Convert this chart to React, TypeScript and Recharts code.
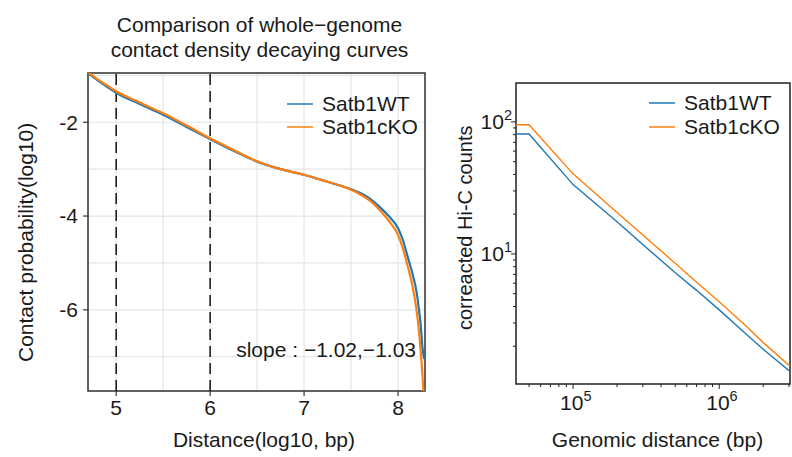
import { LineChart, Line, XAxis, YAxis, CartesianGrid, ReferenceLine, ReferenceArea, Legend } from "recharts"

const FONT = "'Liberation Sans', Arial, Helvetica, sans-serif"
const BLUE = "#1f77b4"
const ORANGE = "#ff7f0e"
const TEXT = "#1a1a1a"

// left panel: whole-genome decay, log10 distance vs log10 contact probability
const logDistance = [
  4.7, 4.8, 4.9, 5.0, 5.25, 5.5, 5.75, 6.0, 6.25, 6.5, 6.75, 7.0, 7.2, 7.4, 7.5, 7.6, 7.7, 7.8,
  7.9, 8.0, 8.05, 8.1, 8.15, 8.2, 8.22, 8.24, 8.26, 8.27, 8.28,
]
const wtLogProb = [
  -0.95, -1.1, -1.24, -1.37, -1.61, -1.84, -2.1, -2.36, -2.61, -2.84, -3.0, -3.12, -3.24, -3.36,
  -3.43, -3.51, -3.63, -3.8, -4.0, -4.26, -4.5, -4.85, -5.2, -5.65, -5.95, -6.3, -6.8, -6.95, -7.05,
]
const koLogProb = [
  -0.93, -1.08, -1.21, -1.34, -1.58, -1.81, -2.07, -2.34, -2.59, -2.83, -3.0, -3.12, -3.24, -3.36,
  -3.44, -3.54, -3.67, -3.86, -4.1, -4.4, -4.68, -5.05, -5.45, -6.05, -6.4, -6.85, -7.4, -7.73, null,
]
const slopeWindow = [5, 6]
const leftXTicks = [5, 5.5, 6, 6.5, 7, 7.5, 8]
const leftYTicks = [-7, -6, -5, -4, -3, -2, -1]

// right panel: corrected Hi-C counts vs genomic distance (log-log)
const genomicDistance = [40000, 50000, 100000, 200000, 300000, 500000, 700000, 1000000, 1500000, 2000000, 3050000]
const wtCounts = [81, 81, 33.5, 17.5, 11.8, 7.2, 5.3, 3.77, 2.52, 1.9, 1.29]
const koCounts = [95, 95, 40.4, 20.6, 13.9, 8.5, 6.1, 4.34, 2.9, 2.13, 1.41]
const rightXTicks = [
  50000, 60000, 70000, 80000, 90000, 100000, 200000, 300000, 400000, 500000, 600000, 700000, 800000,
  900000, 1000000, 2000000, 3000000,
]
const rightYTicks = [2, 3, 4, 5, 6, 7, 8, 9, 10, 20, 30, 40, 50, 60, 70, 80, 90, 100]

const leftData = logDistance.map((d, i) => ({ d, wt: wtLogProb[i], ko: koLogProb[i] }))
const rightData = genomicDistance.map((g, i) => ({ g, wt: wtCounts[i], ko: koCounts[i] }))

const LeftXTick = ({ x, y, payload }: any) => {
  if (!Number.isInteger(payload.value)) return null
  return (
    <g>
      <line x1={x} x2={x} y1={y} y2={y + 5} stroke="#333" strokeWidth={1.2} />
      <text x={x} y={y + 17} dy="0.35em" textAnchor="middle" fontSize={21} fill={TEXT} fontFamily={FONT}>
        {payload.value}
      </text>
    </g>
  )
}

const LeftYTick = ({ x, y, payload }: any) => {
  if (payload.value % 2 !== 0) return null
  return (
    <g>
      <line x1={x - 5} x2={x} y1={y} y2={y} stroke="#333" strokeWidth={1.2} />
      <text x={x - 10} y={y} dy="0.35em" textAnchor="end" fontSize={21} fill={TEXT} fontFamily={FONT}>
        {"-" + Math.abs(payload.value)}
      </text>
    </g>
  )
}

const isPow10 = (v: number) => Math.abs(Math.log10(v) - Math.round(Math.log10(v))) < 1e-9

const RightXTick = ({ x, y, payload }: any) => {
  const major = isPow10(payload.value)
  return (
    <g>
      <line x1={x} x2={x} y1={y} y2={y + (major ? 5 : 3)} stroke="#222" strokeWidth={1} />
      {major && (
        <text x={x - 13} y={y + 19} dy="0.35em" fontSize={21} fill={TEXT} fontFamily={FONT}>
          10
          <tspan dy={-9} fontSize={14.5}>
            {Math.round(Math.log10(payload.value))}
          </tspan>
        </text>
      )}
    </g>
  )
}

const RightYTick = ({ x, y, payload }: any) => {
  const major = isPow10(payload.value)
  return (
    <g>
      <line x1={x - (major ? 5 : 3)} x2={x} y1={y} y2={y} stroke="#222" strokeWidth={1} />
      {major && (
        <text x={x - 4} y={y} dy="0.35em" textAnchor="end" fontSize={21} fill={TEXT} fontFamily={FONT}>
          10
          <tspan dy={-9} fontSize={14.5}>
            {Math.round(Math.log10(payload.value))}
          </tspan>
        </text>
      )}
    </g>
  )
}

const renderLegend = (rowHeight: number) => (props: any) => (
  <div style={{ fontFamily: FONT, fontSize: 21, color: TEXT }}>
    {(props.payload || []).map((p: any) => (
      <div key={p.value} style={{ display: "flex", alignItems: "center", height: rowHeight }}>
        <svg width={26} height={4} style={{ marginRight: 9 }}>
          <line x1={0} x2={26} y1={2} y2={2} stroke={p.color} strokeWidth={1.5} />
        </svg>
        <span>{p.value}</span>
      </div>
    ))}
  </div>
)

export default function App() {
  return (
    <div style={{ position: "absolute", left: 0, top: 0, width: 792, height: 457, background: "#fff" }}>
      <div style={{ position: "absolute", left: 0, top: 0 }}>
        <LineChart width={440} height={457} data={leftData} margin={{ top: 73, right: 15, bottom: 26, left: 18 }}>
          <CartesianGrid stroke="#e5e5e5" strokeWidth={1.2} />
          <XAxis
            dataKey="d"
            type="number"
            domain={[4.7, 8.287]}
            allowDataOverflow
            ticks={leftXTicks}
            interval={0}
            tick={LeftXTick}
            tickLine={false}
            tickSize={0}
            tickMargin={0}
            axisLine={false}
            height={40}
          />
          <YAxis
            type="number"
            domain={[-7.73, -0.95]}
            allowDataOverflow
            ticks={leftYTicks}
            interval={0}
            tick={LeftYTick}
            tickLine={false}
            tickSize={0}
            tickMargin={0}
            axisLine={false}
            width={70}
          />
          {slopeWindow.map((v) => (
            <ReferenceLine key={v} x={v} stroke="#111" strokeWidth={1.5} strokeDasharray="11 6" />
          ))}
          <Line type="monotone" dataKey="wt" name="Satb1WT" stroke={BLUE} strokeWidth={2.2} dot={false} isAnimationActive={false} />
          <Line type="monotone" dataKey="ko" name="Satb1cKO" stroke={ORANGE} strokeWidth={2.2} dot={false} isAnimationActive={false} />
          <ReferenceArea x1={4.7} x2={8.287} y1={-7.73} y2={-0.95} fill="none" stroke="#333" strokeWidth={1.5} />
          <Legend
            layout="horizontal"
            verticalAlign="middle"
            content={renderLegend(23)}
            wrapperStyle={{ position: "absolute", left: 287, top: 92, width: 140 }}
          />
        </LineChart>
      </div>
      <div style={{ position: "absolute", left: 440, top: 0 }}>
        <LineChart width={352} height={457} data={rightData} margin={{ top: 83, right: 2, bottom: 33, left: 16 }}>
          <XAxis
            dataKey="g"
            type="number"
            scale="log"
            domain={[40700, 3050000]}
            allowDataOverflow
            ticks={rightXTicks}
            interval={0}
            tick={RightXTick}
            tickLine={false}
            tickSize={0}
            tickMargin={0}
            axisLine={false}
            height={40}
          />
          <YAxis
            type="number"
            scale="log"
            domain={[1.035, 197]}
            allowDataOverflow
            ticks={rightYTicks}
            interval={0}
            tick={RightYTick}
            tickLine={false}
            tickSize={0}
            tickMargin={0}
            axisLine={false}
            width={60}
          />
          <Line dataKey="wt" name="Satb1WT" stroke={BLUE} strokeWidth={1.4} dot={false} isAnimationActive={false} />
          <Line dataKey="ko" name="Satb1cKO" stroke={ORANGE} strokeWidth={1.4} dot={false} isAnimationActive={false} />
          <ReferenceArea x1={40700} x2={3050000} y1={1.035} y2={197} fill="none" stroke="#222" strokeWidth={1.5} />
          <Legend
            layout="horizontal"
            verticalAlign="middle"
            content={renderLegend(24)}
            wrapperStyle={{ position: "absolute", left: 209, top: 91, width: 140 }}
          />
        </LineChart>
      </div>
      <svg
        width={792}
        height={457}
        style={{ position: "absolute", left: 0, top: 0, pointerEvents: "none" }}
        fontFamily={FONT}
        fill={TEXT}
      >
        <text x={259.5} y={31.5} textAnchor="middle" fontSize={21}>
          Comparison of whole−genome
        </text>
        <text x={259.5} y={56.5} textAnchor="middle" fontSize={21}>
          contact density decaying curves
        </text>
        <text x={416} y={350} dy="0.35em" textAnchor="end" fontSize={21}>
          slope : −1.02,−1.03
        </text>
        <text x={264} y={446.5} textAnchor="middle" fontSize={21}>
          Distance(log10, bp)
        </text>
        <text x={33} y={362} fontSize={21} transform="rotate(-90 33 362)">
          Contact probability(log10)
        </text>
        <text x={657.5} y={446.5} textAnchor="middle" fontSize={21}>
          Genomic distance (bp)
        </text>
        <text x={471.5} y={330} fontSize={20} transform="rotate(-90 471.5 330)">
          correacted Hi-C counts
        </text>
      </svg>
    </div>
  )
}
